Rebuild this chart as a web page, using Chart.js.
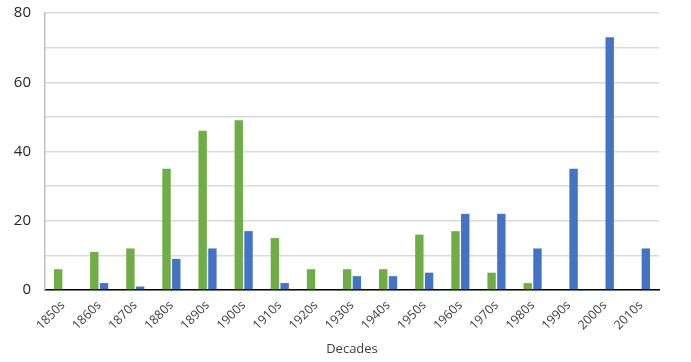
<!DOCTYPE html>
<html>
<head>
<meta charset="utf-8">
<script src="https://cdn.jsdelivr.net/npm/chart.js@4"></script>
<style>
  html, body { margin: 0; padding: 0; background: #fff; }
  #wrap { width: 691px; height: 362px; }
</style>
</head>
<body>
<div id="wrap"><canvas id="decadeChart" width="691" height="362"></canvas></div>
<script>
// Categories and series
const decades = ['1850s', '1860s', '1870s', '1880s', '1890s', '1900s', '1910s', '1920s', '1930s',
    '1940s', '1950s', '1960s', '1970s', '1980s', '1990s', '2000s', '2010s'];
const greenSeries = [6, 11, 12, 35, 46, 49, 15, 6, 6, 6, 16, 17, 5, 2, 0, 0, 0];
const blueSeries = [0, 2, 1, 9, 12, 17, 2, 0, 4, 4, 5, 22, 22, 12, 35, 73, 12];
const yTickLabels = [0, 20, 40, 60, 80];

const ctx = document.getElementById('decadeChart').getContext('2d');
new Chart(ctx, {
    type: 'bar',
    data: {
        labels: decades,
        datasets: [{
            label: 'Series 1',
            data: greenSeries,
            backgroundColor: '#70AD47',
            barPercentage: 0.86,
            categoryPercentage: 0.54
        }, {
            label: 'Series 2',
            data: blueSeries,
            backgroundColor: '#4472C4',
            barPercentage: 0.86,
            categoryPercentage: 0.54
        }]
    },
    options: {
        responsive: false,
        animation: false,
        layout: {
            padding: { top: 13, right: 32, left: 0, bottom: 5 }
        },
        plugins: {
            legend: { display: false },
            tooltip: { enabled: false }
        },
        scales: {
            x: {
                afterFit: function(scale) { scale.height = 67; },
                grid: { display: false },
                border: { color: '#000000', width: 1.5 },
                ticks: {
                    minRotation: 45,
                    maxRotation: 45,
                    color: '#404040',
                    font: { family: 'Open Sans', size: 12.5 },
                    padding: 0
                },
                title: {
                    display: true,
                    text: 'Decades',
                    color: '#404040',
                    font: { family: 'Open Sans', size: 13 },
                    padding: { top: 4, bottom: 0 }
                }
            },
            y: {
                min: 0,
                max: 80,
                afterFit: function(scale) {
                    scale.width = 45;
                    scale.paddingTop = 0;
                },
                grid: {
                    color: '#D9D9D9',
                    lineWidth: 1.5,
                    drawTicks: false
                },
                border: { color: '#BFBFBF', width: 1.5 },
                ticks: {
                    stepSize: 10,
                    padding: 14,
                    autoSkip: false,
                    color: '#262626',
                    font: { family: 'Open Sans', size: 15 },
                    callback: function(value) {
                        return yTickLabels.includes(value) ? String(value) : '';
                    }
                }
            }
        }
    }
});
</script>
</body>
</html>
